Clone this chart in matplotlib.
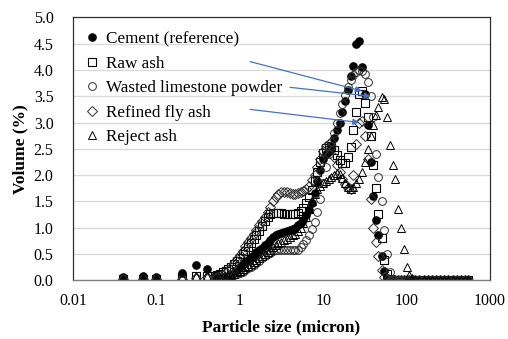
import numpy as np
import matplotlib
matplotlib.use("Agg")
import matplotlib.pyplot as plt

plt.rcParams['font.family'] = ['Liberation Serif', 'DejaVu Serif']

# particle sizes (micron), shared by all series
sizes = [0.04, 0.07, 0.1, 0.2, 0.3, 0.4,
         0.5, 0.54, 0.58, 0.63, 0.68, 0.73, 0.79, 0.85, 0.92,
         1.0, 1.08, 1.16, 1.25, 1.35, 1.46, 1.58, 1.7, 1.84, 2.0,
         2.15, 2.3, 2.5, 2.7, 2.9, 3.15, 3.4, 3.7, 4.0, 4.3,
         4.6, 5.0, 5.4, 5.8, 6.3, 6.8, 7.3, 7.9, 8.5, 9.2,
         10, 10.8, 11.6, 12.5, 13.5, 14.6, 15.8, 17, 18.4, 20,
         21.5, 23, 25, 27, 29, 31.5, 34, 37, 40, 43,
         46, 50, 54, 58, 63, 68, 73, 79, 85, 92,
         100, 108, 116, 125, 140, 160, 180, 200, 225, 250,
         280, 315, 355, 400, 450, 500, 550]

cement = [0.05, 0.07, 0.06, 0.13, 0.29, 0.21,
          0.08, 0.05, 0.04, 0.04, 0.05, 0.07, 0.10, 0.14, 0.19,
          0.25, 0.30, 0.34, 0.38, 0.43, 0.48, 0.53, 0.57, 0.61, 0.66,
          0.71, 0.76, 0.81, 0.85, 0.88, 0.90, 0.92, 0.93, 0.95, 0.97,
          1.00, 1.04, 1.09, 1.15, 1.23, 1.33, 1.46, 1.65, 1.88, 2.10,
          2.30, 2.40, 2.46, 2.55, 2.70, 2.85, 3.00, 3.20, 3.40, 3.62,
          3.88, 4.08, 4.50, 4.55, 4.06, 3.55, 2.95, 2.25, 1.60, 1.15,
          0.85, 0.46, 0.18, 0.03, 0, 0, 0, 0, 0, 0,
          0, 0, 0, 0, 0, 0, 0, 0, 0, 0,
          0, 0, 0, 0, 0, 0, 0]

raw_ash = [0.02, 0.02, 0.02, 0.05, 0.07, 0.07,
           0.08, 0.10, 0.12, 0.15, 0.18, 0.21, 0.25, 0.30, 0.36,
           0.42, 0.49, 0.56, 0.63, 0.70, 0.78, 0.86, 0.94, 1.03, 1.12,
           1.20, 1.25, 1.27, 1.27, 1.27, 1.27, 1.26, 1.25, 1.25, 1.25,
           1.26, 1.28, 1.32, 1.38, 1.46, 1.58, 1.72, 1.88, 2.05, 2.25,
           2.42, 2.52, 2.56, 2.55, 2.48, 2.38, 2.28, 2.22, 2.22, 2.35,
           2.54, 2.85, 3.20, 3.55, 3.60, 3.37, 3.10, 2.75, 2.20, 1.75,
           1.25, 0.80, 0.38, 0.12, 0.02, 0, 0, 0, 0, 0,
           0, 0, 0, 0, 0, 0, 0, 0, 0, 0,
           0, 0, 0, 0, 0, 0, 0]

limestone = [0.01, 0.01, 0.01, 0.02, 0.03, 0.03,
             0.02, 0.02, 0.03, 0.04, 0.05, 0.06, 0.08, 0.10, 0.12,
             0.14, 0.16, 0.19, 0.22, 0.25, 0.29, 0.33, 0.37, 0.41, 0.45,
             0.49, 0.52, 0.55, 0.57, 0.58, 0.58, 0.57, 0.57, 0.57, 0.57,
             0.57, 0.58, 0.62, 0.68, 0.76, 0.86, 0.97, 1.10, 1.30, 1.55,
             1.85, 2.15, 2.40, 2.62, 2.80, 3.00, 3.18, 3.35, 3.52, 3.68,
             3.80, 3.90, 3.97, 4.00, 3.98, 3.92, 3.78, 3.50, 3.10, 2.40,
             1.97, 1.50, 0.95, 0.50, 0.15, 0.02, 0, 0, 0, 0,
             0, 0, 0, 0, 0, 0, 0, 0, 0, 0,
             0, 0, 0, 0, 0, 0, 0]

fly_ash = [0.01, 0.01, 0.01, 0.02, 0.04, 0.05,
           0.03, 0.05, 0.07, 0.10, 0.14, 0.19, 0.25, 0.32, 0.40,
           0.48, 0.56, 0.64, 0.72, 0.80, 0.88, 0.96, 1.04, 1.12, 1.20,
           1.30, 1.40, 1.50, 1.58, 1.64, 1.67, 1.68, 1.67, 1.65, 1.64,
           1.64, 1.65, 1.67, 1.70, 1.74, 1.80, 1.90, 2.00, 2.15, 2.30,
           2.45, 2.55, 2.60, 2.55, 2.35, 2.20, 2.05, 1.92, 1.82, 1.76,
           1.74, 2.00, 2.60, 3.00, 3.02, 2.75, 2.30, 1.55, 1.00, 0.72,
           0.45, 0.20, 0.05, 0, 0, 0, 0, 0, 0, 0,
           0, 0, 0, 0, 0, 0, 0, 0, 0, 0,
           0, 0, 0, 0, 0, 0, 0]

reject_ash = [0.02, 0.03, 0.03, 0.05, 0.08, 0.08,
              0.02, 0.03, 0.04, 0.05, 0.06, 0.08, 0.10, 0.12, 0.15,
              0.18, 0.21, 0.24, 0.27, 0.30, 0.34, 0.38, 0.42, 0.46, 0.50,
              0.54, 0.58, 0.62, 0.66, 0.70, 0.73, 0.76, 0.79, 0.82, 0.85,
              0.88, 0.93, 1.00, 1.08, 1.20, 1.35, 1.50, 1.64, 1.74, 1.80,
              1.84, 1.88, 1.92, 1.96, 2.00, 2.03, 2.02, 1.95, 1.85, 1.78,
              1.74, 1.78, 1.85, 1.92, 2.05, 2.25, 2.50, 2.75, 2.95, 3.14,
              3.30, 3.48, 3.45, 3.10, 2.57, 2.20, 1.92, 1.35, 1.00, 0.60,
              0.25, 0.10, 0.04, 0, 0, 0, 0, 0, 0, 0,
              0, 0, 0, 0, 0, 0, 0]

labels = ["Cement (reference)", "Raw ash", "Wasted limestone powder",
          "Refined fly ash", "Reject ash"]
x_ticks = [0.01, 0.1, 1, 10, 100, 1000]
x_tick_labels = ["0.01", "0.1", "1", "10", "100", "1000"]
y_ticks = [0.0, 0.5, 1.0, 1.5, 2.0, 2.5, 3.0, 3.5, 4.0, 4.5, 5.0]

fig = plt.figure(figsize=(5.08, 3.39), dpi=100)
ax = fig.add_axes([0.1437, 0.174, 0.8209, 0.7744])

ax.plot(sizes, cement, 'o', ms=5.2, mfc='black', mec='black', label=labels[0])
ax.plot(sizes, raw_ash, 's', ms=5.2, mfc='none', mec='black', mew=0.8, label=labels[1])
ax.plot(sizes, limestone, 'o', ms=5.6, mfc='none', mec='#303030', mew=0.7, label=labels[2])
ax.plot(sizes, fly_ash, 'D', ms=4.6, mfc='none', mec='#303030', mew=0.7, label=labels[3])
ax.plot(sizes, reject_ash, '^', ms=5.8, mfc='none', mec='black', mew=0.7, label=labels[4])

# blue pointer arrows from legend labels
arrow_kw = dict(arrowstyle='-|>', color='#4472C4', lw=0.9, mutation_scale=9,
                shrinkA=0, shrinkB=0)
i_raw = sizes.index(29)
i_lime = sizes.index(37)
i_fly = sizes.index(27)
ax.annotate('', xy=(sizes[i_raw], raw_ash[i_raw]), xytext=(1.33, 4.16), arrowprops=arrow_kw)
ax.annotate('', xy=(sizes[i_lime], limestone[i_lime]), xytext=(4.0, 3.67), arrowprops=arrow_kw)
ax.annotate('', xy=(sizes[i_fly], fly_ash[i_fly]), xytext=(1.33, 3.25), arrowprops=arrow_kw)

ax.set_xscale('log')
ax.set_xlim(0.01, 1000)
ax.set_ylim(0, 5.0)
ax.set_xticks(x_ticks)
ax.set_xticklabels(x_tick_labels)
ax.minorticks_off()
ax.set_yticks(y_ticks)
ax.set_yticklabels(["%.1f" % v for v in y_ticks])
ax.tick_params(axis='both', length=0, labelsize=11.5)
ax.tick_params(axis='y', pad=14)
ax.tick_params(axis='x', pad=9)
ax.yaxis.grid(True, color='#d9d9d9', lw=0.9)
ax.set_axisbelow(True)
for side in ['top', 'left', 'right']:
    ax.spines[side].set_color('#303030')
    ax.spines[side].set_linewidth(0.9)
ax.spines['bottom'].set_color('#808080')
ax.spines['bottom'].set_linewidth(1.0)

ax.set_xlabel("Particle size (micron)", fontsize=12.5, fontweight='bold', labelpad=8)
ax.set_ylabel("Volume (%)", fontsize=12.5, fontweight='bold', labelpad=4)

ax.legend(loc='upper left', bbox_to_anchor=(0.03, 0.948), frameon=False,
          fontsize=12.3, handlelength=0.8, handletextpad=0.4, labelspacing=0.5,
          borderaxespad=0, borderpad=0)

fig.savefig("out.png", dpi=100)
